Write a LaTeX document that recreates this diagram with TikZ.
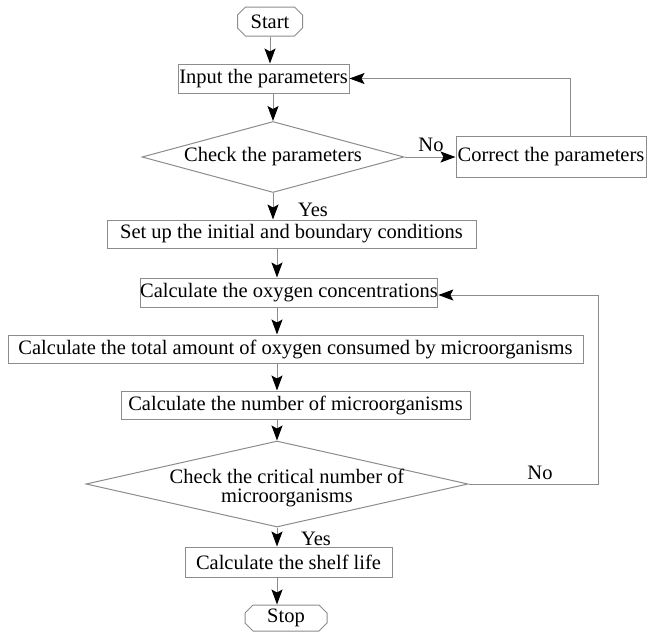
\documentclass[tikz,border=0pt]{standalone}
\usepackage{fontspec}
\setmainfont{Liberation Serif}
\usetikzlibrary{arrows.meta,shapes.geometric,shapes.misc}

\tikzset{
  box/.style={draw=black!45, line width=1pt, rectangle, inner sep=0pt},
  ends/.style={draw=black!45, line width=1pt, chamfered rectangle, chamfered rectangle xsep=4pt, chamfered rectangle ysep=4pt, inner sep=0pt},
  test/.style={draw=black!45, line width=1pt, diamond, inner sep=0pt},
  arr/.style={draw=black!45, line width=1pt, -{Stealth[length=15pt,width=11pt,inset=3pt,color=black]}},
  lbl/.style={inner sep=0pt}
}

\begin{document}
\begin{tikzpicture}[x=1pt,y=-1pt,every node/.style={font=\fontsize{20.5}{18.5}\selectfont}]
\useasboundingbox (0,0) rectangle (647,632);

\node[ends, minimum width=65pt, minimum height=29pt] (start) at (270,21.5) {Start};
\node[box, minimum width=171pt, minimum height=29pt] (inp) at (263.5,78.5) {Input the parameters};
\node[test, minimum width=262pt, minimum height=71pt, label={center:Check the parameters}] (chk1) at (273,157) {};
\node[box, minimum width=190pt, minimum height=41pt] (correct) at (551,156.5) {Correct the parameters};
\node[box, minimum width=369pt, minimum height=28pt] (setup) at (291.5,234) {Set up the initial and boundary conditions};
\node[box, minimum width=292pt, minimum height=29pt] (oxy) at (289,292.5) {Calculate the oxygen concentrations};
\node[box, minimum width=575pt, minimum height=28pt] (total) at (295.5,349) {Calculate the total amount of oxygen consumed by microorganisms};
\node[box, minimum width=349pt, minimum height=28pt] (num) at (295.5,405) {Calculate the number of microorganisms};
\node[test, minimum width=382pt, minimum height=86pt, label={[align=center, xshift=10pt, yshift=-4pt]center:Check the critical number of\\microorganisms}] (chk2) at (277,484) {};
\node[box, minimum width=207pt, minimum height=30pt] (shelf) at (288.5,562) {Calculate the shelf life};
\node[ends, minimum width=82pt, minimum height=26pt] (stop) at (286,618) {Stop};

\node[lbl] (yes1) at (313,210) {Yes};
\node[lbl] (no1) at (431,145) {No};
\node[lbl] (no2) at (540,473) {No};
\node[lbl] (yes2) at (316,539) {Yes};

\coordinate (axis) at (277,0);
\coordinate (loop) at (598,0);

\draw[arr] (start) -- (start |- inp.north);
\draw[arr] (chk1.north |- inp.south) -- (chk1.north);
\draw[arr] (chk1.south) -- (chk1.south |- setup.north);
\draw[arr] (chk1.east) -- (correct.west |- chk1.east);
\draw[arr] ([xshift=19pt]correct.north) |- (inp.east);
\draw[arr] (axis |- setup.south) -- (axis |- oxy.north);
\draw[arr] (axis |- oxy.south) -- (axis |- total.north);
\draw[arr] (axis |- total.south) -- (axis |- num.north);
\draw[arr] (axis |- num.south) -- (chk2.north);
\draw[arr] (chk2.south) -- (chk2.south |- shelf.north);
\draw[arr] (axis |- shelf.south) -- (axis |- stop.north);
\draw[arr] (chk2.east) -- (chk2.east -| loop) |- ([yshift=-2.5pt]oxy.east);

\end{tikzpicture}
\end{document}
